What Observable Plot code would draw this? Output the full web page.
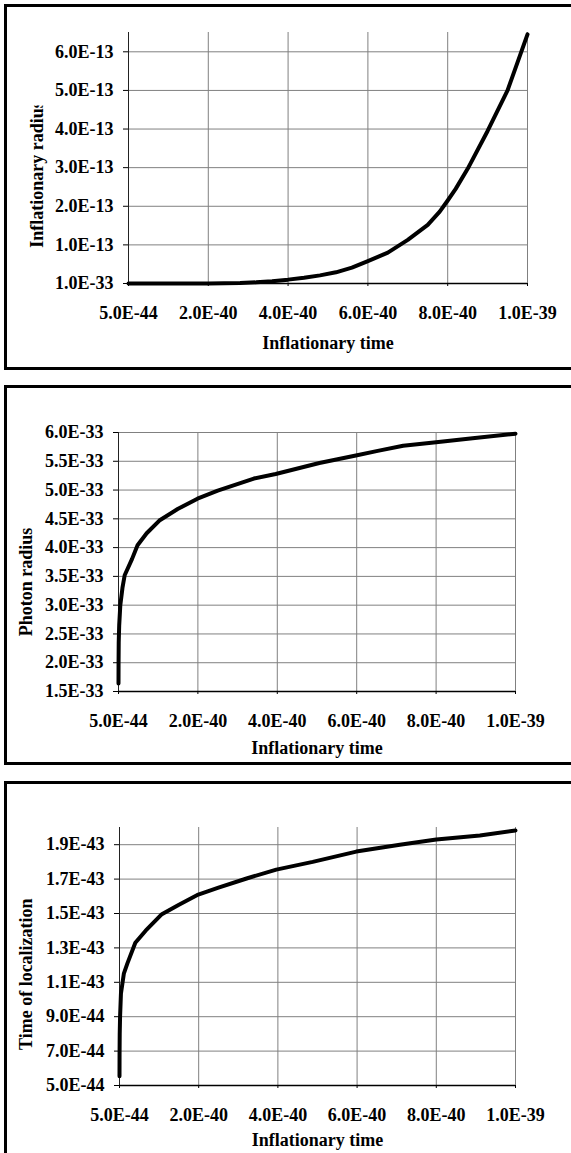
<!DOCTYPE html>
<html><head><meta charset="utf-8">
<script src="https://cdn.jsdelivr.net/npm/d3@7"></script>
<script src="https://cdn.jsdelivr.net/npm/@observablehq/plot@0.6"></script>
<style>
html,body{margin:0;padding:0;background:#fff;}
body{width:571px;height:1153px;overflow:hidden;position:relative;font-family:"Liberation Serif","Times New Roman",serif;}
.frame{position:absolute;left:4px;width:700px;border:3px solid #000;box-sizing:border-box;}
.chart{position:absolute;left:0;}
</style></head><body>
<div class="frame" style="top:4px;height:366px"></div>
<div class="frame" style="top:385px;height:380px"></div>
<div class="frame" style="top:781px;height:400px"></div>
<div id="c1" class="chart" style="top:4px"></div>
<div id="c2" class="chart" style="top:385px"></div>
<div id="c3" class="chart" style="top:781px"></div>
<script>
// shared x axis
const xDomain = [5e-44, 1e-39];
const xTicks = [5e-44, 2e-40, 4e-40, 6e-40, 8e-40, 1e-39];
const xTitle = "Inflationary time";

// panel 1: inflationary radius
const radiusTime  = [5e-44, 1e-40, 2e-40, 2.8e-40, 3.2e-40, 3.6e-40, 4e-40, 4.4e-40, 4.8e-40, 5.2e-40, 5.6e-40, 6e-40, 6.5e-40, 7e-40, 7.5e-40, 7.8e-40, 8e-40, 8.2e-40, 8.5e-40, 9e-40, 9.5e-40, 1e-39];
const radiusValue = [1e-33, 1e-33, 2e-16, 1e-15, 3e-15, 6e-15, 1e-14, 1.5e-14, 2.1e-14, 2.9e-14, 4.1e-14, 5.8e-14, 8e-14, 1.13e-13, 1.52e-13, 1.86e-13, 2.15e-13, 2.45e-13, 2.97e-13, 3.95e-13, 5.0e-13, 6.45e-13];
const radiusDomain = [1e-33, 6.5e-13];
const radiusTicks = [1e-33, 1e-13, 2e-13, 3e-13, 4e-13, 5e-13, 6e-13];

// panel 2: photon radius
const photonTime   = [5e-44, 2e-43, 6e-43, 1.8e-42, 4.6e-42, 1e-41, 1.56e-41, 3.4e-41, 4.8e-41, 7.1e-41, 1.03e-40, 1.49e-40, 1.99e-40, 2.5e-40, 3.41e-40, 3.96e-40, 5.06e-40, 5.98e-40, 6.53e-40, 7.17e-40, 8e-40, 8.92e-40, 1e-39];
const photonRadius = [1.64e-33, 2.0e-33, 2.35e-33, 2.65e-33, 3.0e-33, 3.3e-33, 3.52e-33, 3.8e-33, 4.04e-33, 4.25e-33, 4.47e-33, 4.67e-33, 4.85e-33, 4.99e-33, 5.2e-33, 5.28e-33, 5.47e-33, 5.6e-33, 5.68e-33, 5.77e-33, 5.83e-33, 5.9e-33, 5.98e-33];
const photonDomain = [1.5e-33, 6e-33];
const photonTicks = [1.5e-33, 2e-33, 2.5e-33, 3e-33, 3.5e-33, 4e-33, 4.5e-33, 5e-33, 5.5e-33, 6e-33];

// panel 3: time of localization
const locTime  = [5e-44, 2e-43, 6e-43, 1.5e-42, 3.7e-42, 1.1e-41, 2e-41, 4e-41, 6.6e-41, 1.07e-40, 1.49e-40, 1.99e-40, 2.5e-40, 3.23e-40, 3.96e-40, 4.88e-40, 5.98e-40, 7.08e-40, 8e-40, 9.1e-40, 1e-39];
const locValue = [5.54e-44, 6.8e-44, 8.0e-44, 9.0e-44, 1.035e-43, 1.15e-43, 1.21e-43, 1.33e-43, 1.40e-43, 1.496e-43, 1.55e-43, 1.61e-43, 1.65e-43, 1.705e-43, 1.755e-43, 1.80e-43, 1.86e-43, 1.90e-43, 1.93e-43, 1.954e-43, 1.983e-43];
const locDomain = [5e-44, 2e-43];
const locTicks = [5e-44, 7e-44, 9e-44, 1.1e-43, 1.3e-43, 1.5e-43, 1.7e-43, 1.9e-43];

const fmt = d => d.toExponential(1).toUpperCase();
const FONT = '"Liberation Serif","Times New Roman",Times,serif';

function panel(o) {
  const data = o.time.map((t, i) => ({t, v: o.values[i]}));
  const svg = Plot.plot({
    width: 571, height: o.height,
    marginTop: o.mt, marginBottom: o.mb, marginLeft: o.ml, marginRight: o.mr,
    style: {fontFamily: FONT, fontSize: "18px", fontWeight: "bold", color: "#000", background: "transparent", overflow: "visible"},
    x: {type: "linear", domain: xDomain},
    y: {type: "linear", domain: o.yDomain},
    marks: [
      Plot.gridX(xTicks.slice(1), {stroke: "#808080", strokeOpacity: 1, strokeWidth: 1}),
      Plot.gridY(o.yTicks.slice(1), {stroke: "#808080", strokeOpacity: 1, strokeWidth: 1}),
      Plot.ruleX([xDomain[0]], {stroke: "#222", strokeWidth: 1}),
      Plot.ruleY([o.yDomain[0]], {stroke: "#000", strokeWidth: 1.5}),
      Plot.axisX(xTicks, {tickSize: 3, tickPadding: 20, tickFormat: fmt, label: null, fontSize: 18, fontWeight: "bold", fontFamily: FONT}),
      Plot.axisY(o.yTicks, {tickSize: 5, tickPadding: 10, tickFormat: fmt, label: null, fontSize: 18, fontWeight: "bold", fontFamily: FONT}),
      Plot.line(data, {x: "t", y: "v", stroke: "#000", strokeWidth: 4}),
      Plot.text([xTitle], {text: d => d, frameAnchor: "bottom", textAnchor: "middle", lineAnchor: "middle", dy: o.xdy, fontSize: 18, fontWeight: "bold", fontFamily: FONT}),
      Plot.text([o.yTitle], {text: d => d, frameAnchor: "left", textAnchor: "middle", lineAnchor: "middle", rotate: -90, dx: o.ydx, dy: o.ydy, fontSize: 18, fontWeight: "bold", fontFamily: FONT})
    ]
  });
  if (o.clipY != null) {
    const ns = "http://www.w3.org/2000/svg";
    const groups = svg.querySelectorAll('g[aria-label="text"]');
    const g = groups[groups.length - 1];
    const defs = document.createElementNS(ns, "defs");
    const cp = document.createElementNS(ns, "clipPath");
    cp.setAttribute("id", o.id + "-clip");
    const r = document.createElementNS(ns, "rect");
    r.setAttribute("x", 0); r.setAttribute("y", o.clipY);
    r.setAttribute("width", 571); r.setAttribute("height", o.height);
    cp.appendChild(r); defs.appendChild(cp);
    svg.insertBefore(defs, svg.firstChild);
    const wrap = document.createElementNS(ns, "g");
    wrap.setAttribute("clip-path", `url(#${o.id}-clip)`);
    g.parentNode.insertBefore(wrap, g);
    wrap.appendChild(g);
  }
  document.getElementById(o.id).appendChild(svg);
}

panel({id: "c1", height: 366, mt: 28, mb: 87, ml: 128, mr: 44,
  time: radiusTime, values: radiusValue, yDomain: radiusDomain, yTicks: radiusTicks,
  yTitle: "Inflationary radius", ydx: -91, ydy: 16.5, xdy: 60, clipY: 101.5});
panel({id: "c2", height: 380, mt: 47, mb: 74, ml: 118, mr: 56,
  time: photonTime, values: photonRadius, yDomain: photonDomain, yTicks: photonTicks,
  yTitle: "Photon radius", ydx: -92.5, ydy: 20, xdy: 57});
panel({id: "c3", height: 372, mt: 46, mb: 68, ml: 119, mr: 56,
  time: locTime, values: locValue, yDomain: locDomain, yTicks: locTicks,
  yTitle: "Time of localization", ydx: -93, ydy: 17.7, xdy: 55});
</script>
</body></html>
